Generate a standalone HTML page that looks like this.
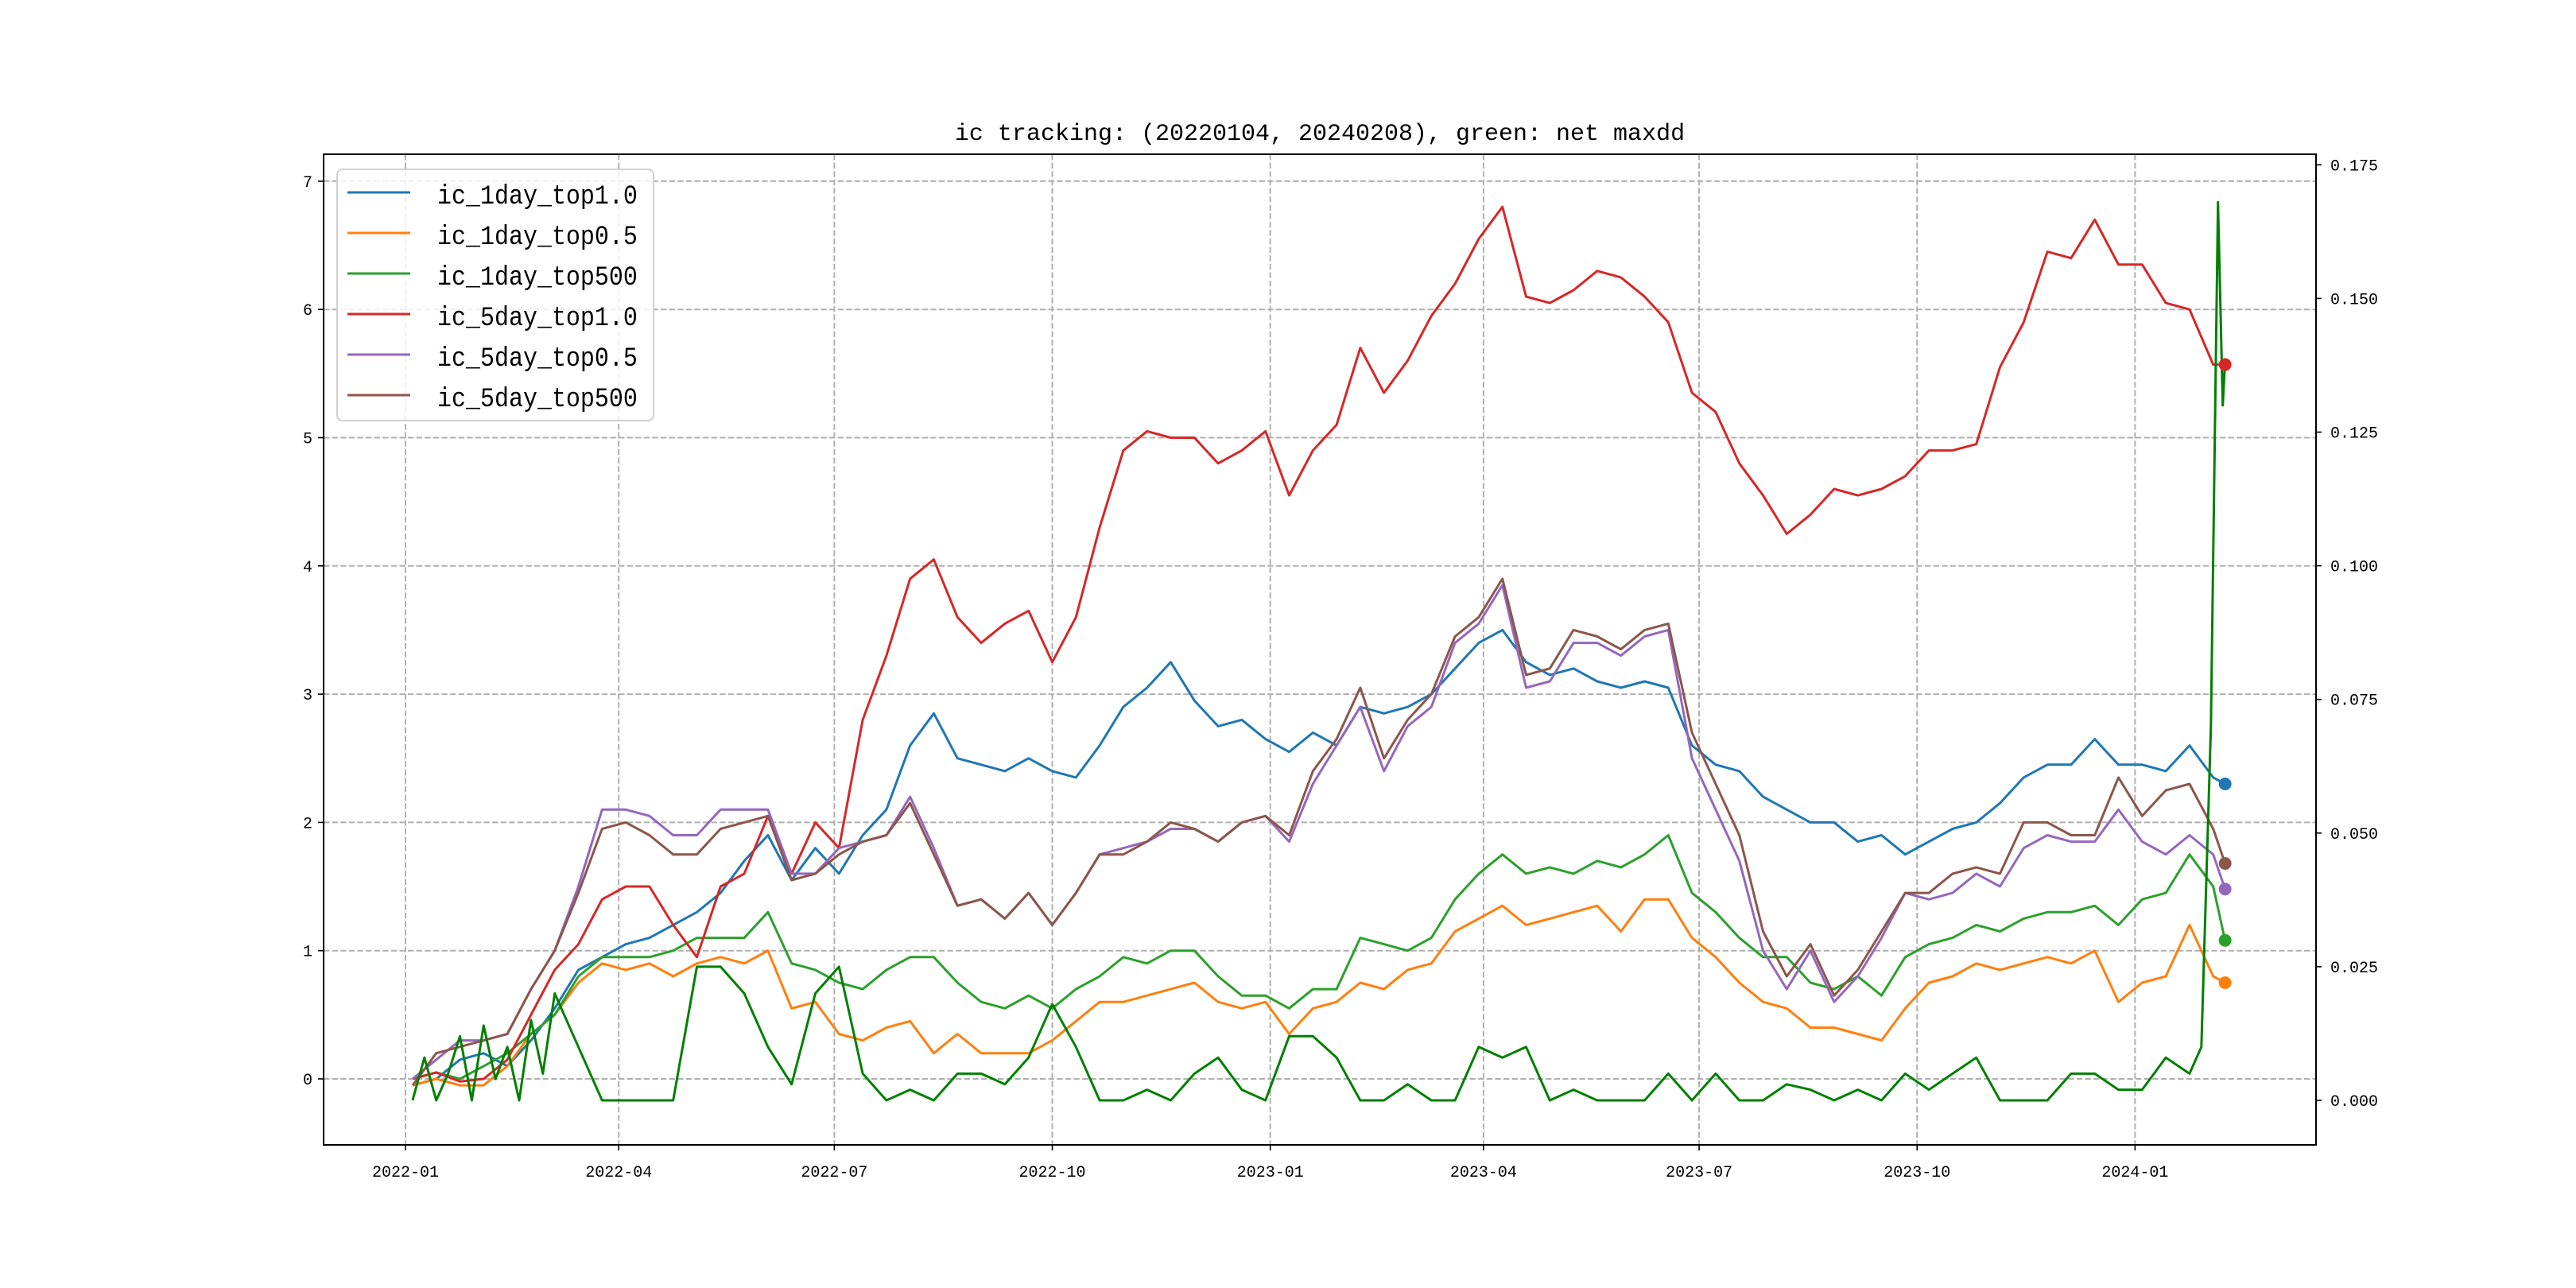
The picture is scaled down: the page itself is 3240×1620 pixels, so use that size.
<!DOCTYPE html>
<html><head><meta charset="utf-8"><style>
html,body{margin:0;padding:0;background:#fff;}
svg{display:block;}
text{font-family:"Liberation Mono","WenQuanYi Zen Hei",monospace;fill:#000;}
</style></head><body>
<svg id="chart" width="3240" height="1620" xmlns="http://www.w3.org/2000/svg">
<rect width="3240" height="1620" fill="#fff"/>
<text x="1660" y="176" font-size="30" text-anchor="middle">ic tracking: (20220104, 20240208), green: net maxdd</text>
<g id="grid"></g><g id="series"></g><g id="axes"></g><g id="legend"></g>
</svg>
<script>
const xDays = [0,10,20,30,40,50,60,70,80,90,100,110,120,130,140,150,160,170,180,190,200,210,220,230,240,250,260,270,280,290,300,310,320,330,340,350,360,370,380,390,400,410,420,430,440,450,460,470,480,490,500,510,520,530,540,550,560,570,580,590,600,610,620,630,640,650,660,670,680,690,700,710,720,730,740,750,760,765];
const red = [0,0.05,-0.02,0,0.15,0.5,0.85,1.05,1.4,1.5,1.5,1.2,0.95,1.5,1.6,2.05,1.6,2.0,1.8,2.8,3.3,3.9,4.05,3.6,3.4,3.55,3.65,3.25,3.6,4.3,4.9,5.05,5.0,5.0,4.8,4.9,5.05,4.55,4.9,5.1,5.7,5.35,5.6,5.95,6.2,6.55,6.8,6.1,6.05,6.15,6.3,6.25,6.1,5.9,5.35,5.2,4.8,4.55,4.25,4.4,4.6,4.55,4.6,4.7,4.9,4.9,4.95,5.55,5.9,6.45,6.4,6.7,6.35,6.35,6.05,6.0,5.57,5.57];
const blue = [-0.05,0,0.15,0.2,0.1,0.3,0.55,0.85,0.95,1.05,1.1,1.2,1.3,1.45,1.7,1.9,1.55,1.8,1.6,1.9,2.1,2.6,2.85,2.5,2.45,2.4,2.5,2.4,2.35,2.6,2.9,3.05,3.25,2.95,2.75,2.8,2.65,2.55,2.7,2.6,2.9,2.85,2.9,3.0,3.2,3.4,3.5,3.25,3.15,3.2,3.1,3.05,3.1,3.05,2.6,2.45,2.4,2.2,2.1,2.0,2.0,1.85,1.9,1.75,1.85,1.95,2.0,2.15,2.35,2.45,2.45,2.65,2.45,2.45,2.4,2.6,2.35,2.3];
const orange = [-0.05,0,-0.05,-0.05,0.1,0.35,0.5,0.75,0.9,0.85,0.9,0.8,0.9,0.95,0.9,1.0,0.55,0.6,0.35,0.3,0.4,0.45,0.2,0.35,0.2,0.2,0.2,0.3,0.45,0.6,0.6,0.65,0.7,0.75,0.6,0.55,0.6,0.35,0.55,0.6,0.75,0.7,0.85,0.9,1.15,1.25,1.35,1.2,1.25,1.3,1.35,1.15,1.4,1.4,1.1,0.95,0.75,0.6,0.55,0.4,0.4,0.35,0.3,0.55,0.75,0.8,0.9,0.85,0.9,0.95,0.9,1.0,0.6,0.75,0.8,1.2,0.8,0.75];
const green = [0,0.05,0,0.1,0.2,0.35,0.5,0.8,0.95,0.95,0.95,1.0,1.1,1.1,1.1,1.3,0.9,0.85,0.75,0.7,0.85,0.95,0.95,0.75,0.6,0.55,0.65,0.55,0.7,0.8,0.95,0.9,1.0,1.0,0.8,0.65,0.65,0.55,0.7,0.7,1.1,1.05,1.0,1.1,1.4,1.6,1.75,1.6,1.65,1.6,1.7,1.65,1.75,1.9,1.45,1.3,1.1,0.95,0.95,0.75,0.7,0.8,0.65,0.95,1.05,1.1,1.2,1.15,1.25,1.3,1.3,1.35,1.2,1.4,1.45,1.75,1.5,1.08];
const purple = [0,0.15,0.3,0.3,0.35,0.7,1.0,1.5,2.1,2.1,2.05,1.9,1.9,2.1,2.1,2.1,1.6,1.6,1.8,1.85,1.9,2.2,1.8,1.35,1.4,1.25,1.45,1.2,1.45,1.75,1.8,1.85,1.95,1.95,1.85,2.0,2.05,1.85,2.3,2.6,2.9,2.4,2.75,2.9,3.4,3.55,3.85,3.05,3.1,3.4,3.4,3.3,3.45,3.5,2.5,2.1,1.7,1.0,0.7,1.0,0.6,0.8,1.1,1.45,1.4,1.45,1.6,1.5,1.8,1.9,1.85,1.85,2.1,1.85,1.75,1.9,1.75,1.48];
const brown = [-0.05,0.2,0.25,0.3,0.35,0.7,1.0,1.45,1.95,2.0,1.9,1.75,1.75,1.95,2.0,2.05,1.55,1.6,1.75,1.85,1.9,2.15,1.75,1.35,1.4,1.25,1.45,1.2,1.45,1.75,1.75,1.85,2.0,1.95,1.85,2.0,2.05,1.9,2.4,2.65,3.05,2.5,2.8,3.0,3.45,3.6,3.9,3.15,3.2,3.5,3.45,3.35,3.5,3.55,2.7,2.3,1.9,1.15,0.8,1.05,0.65,0.85,1.15,1.45,1.45,1.6,1.65,1.6,2.0,2.0,1.9,1.9,2.35,2.05,2.25,2.3,1.95,1.68];
const ddDays = [0,5,10,15,20,25,30,35,40,45,50,55,60,70,80,90,100,110,120,130,140,150,160,170,180,190,200,210,220,230,240,250,260,270,280,290,300,310,320,330,340,350,360,370,380,390,400,410,420,430,440,450,460,470,480,490,500,510,520,530,540,550,560,570,580,590,600,610,620,630,640,650,660,670,680,690,700,710,720,730,740,750,755,759,762,764,765];
const maxdd = [0,0.008,0,0.005,0.012,0,0.014,0.004,0.01,0.0,0.015,0.005,0.02,0.01,0,0,0,0,0.025,0.025,0.02,0.01,0.003,0.02,0.025,0.005,0,0.002,0,0.005,0.005,0.003,0.008,0.018,0.01,0,0,0.002,0,0.005,0.008,0.002,0,0.012,0.012,0.008,0,0,0.003,0,0,0.01,0.008,0.01,0,0.002,0,0,0,0.005,0,0.005,0,0,0.003,0.002,0,0.002,0,0.005,0.002,0.005,0.008,0,0,0,0.005,0.005,0.002,0.002,0.008,0.005,0.01,0.07,0.168,0.13,0.138];
const yTicksL = [0,1,2,3,4,5,6,7];
const yTicksR = [0,0.025,0.05,0.075,0.1,0.125,0.15,0.175];
const yTickLabelsR = ["0.000","0.025","0.050","0.075","0.100","0.125","0.150","0.175"];
const xTickDays = [0,90,181,273,365,455,546,638,730];
const xTickLabels = ["2022-01","2022-04","2022-07","2022-10","2023-01","2023-04","2023-07","2023-10","2024-01"];
const seriesNames = ["ic_1day_top1.0","ic_1day_top0.5","ic_1day_top500","ic_5day_top1.0","ic_5day_top0.5","ic_5day_top500"];

const NS="http://www.w3.org/2000/svg";
const L=407,R=2913,T=194,B=1440;
const X0=510, PD=2.98, OFF=3;
const xs=d=>X0+d*PD;
const ysL=v=>1357-v*161.3;
const ysR=v=>1384-v*6724;
function mk(tag,attrs,parent){const e=document.createElementNS(NS,tag);for(const k in attrs)e.setAttribute(k,attrs[k]);parent.appendChild(e);return e;}
const grid=document.getElementById('grid'),ser=document.getElementById('series'),axes=document.getElementById('axes'),leg=document.getElementById('legend');
const gstyle={stroke:"#b0b0b0","stroke-width":2,"stroke-dasharray":"7.4,3.2",fill:"none"};
xTickDays.forEach((d,i)=>{
  const x=xs(d);
  const g=mk('line',Object.assign({x1:x,x2:x,y1:T,y2:B},gstyle),grid);
  
  
  const t=mk('line',{x1:x,x2:x,y1:B,y2:B+7,stroke:"#000","stroke-width":1.6},axes);
  
  
  const lb=mk('text',{x:x,y:B+40,"font-size":20,"text-anchor":"middle"},axes);lb.textContent=xTickLabels[i];
  
  
});
yTicksL.forEach(v=>{
  const y=ysL(v);
  const g=mk('line',Object.assign({x1:L,x2:R,y1:y,y2:y},gstyle),grid);
  
  
  const t=mk('line',{x1:L-7,x2:L,y1:y,y2:y,stroke:"#000","stroke-width":1.6},axes);
  
  
  const lb=mk('text',{x:L-14,y:y+7,"font-size":20,"text-anchor":"end"},axes);lb.textContent=String(v);
  
  
});
yTicksR.forEach((v,i)=>{
  const y=ysR(v);
  const t=mk('line',{x1:R,x2:R+7,y1:y,y2:y,stroke:"#000","stroke-width":1.6},axes);
  
  
  const lb=mk('text',{x:R+18,y:y+7,"font-size":20},axes);lb.textContent=yTickLabelsR[i];
  
  
});
const frame=mk('rect',{x:L,y:T,width:R-L,height:B-T,fill:"none",stroke:"#000","stroke-width":2},axes);



const colors=["#1f77b4","#ff7f0e","#2ca02c","#d62728","#9467bd","#8c564b"];
const data=[blue,orange,green,red,purple,brown];
const keys=["series-ic-1day-top1-0","series-ic-1day-top0-5","series-ic-1day-top500","series-ic-5day-top1-0","series-ic-5day-top0-5","series-ic-5day-top500"];
function path(days,vals,ys){return days.map((d,i)=>(i?'L':'M')+xs(d+OFF).toFixed(1)+','+ys(vals[i]).toFixed(1)).join(' ');}
data.forEach((vals,i)=>{
  const p=mk('path',{d:path(xDays,vals,ysL),stroke:colors[i],"stroke-width":3,fill:"none","stroke-linejoin":"round"},ser);
  
  
});
const dd=mk('path',{d:path(ddDays,maxdd,ysR),stroke:"#008000","stroke-width":3,fill:"none","stroke-linejoin":"round"},ser);


data.forEach((vals,i)=>{
  const c=mk('circle',{cx:xs(xDays[xDays.length-1]+OFF),cy:ysL(vals[vals.length-1]),r:8,fill:colors[i]},ser);
  
  
});
const box=mk('rect',{x:424,y:213,width:398,height:316,rx:7,fill:"#fff","fill-opacity":0.8,stroke:"#d0d0d0","stroke-width":2},leg);


seriesNames.forEach((n,i)=>{
  const y=242+i*51;
  const ln=mk('line',{x1:437,x2:516,y1:y,y2:y,stroke:colors[i],"stroke-width":3},leg);
  
  
  const t=mk('text',{x:550,y:y+12,"font-size":30,transform:"translate(0,"+(y)+") scale(1,1.15) translate(0,"+(-y)+")"},leg);t.textContent=n;
  
  
});
</script>
</body></html>
